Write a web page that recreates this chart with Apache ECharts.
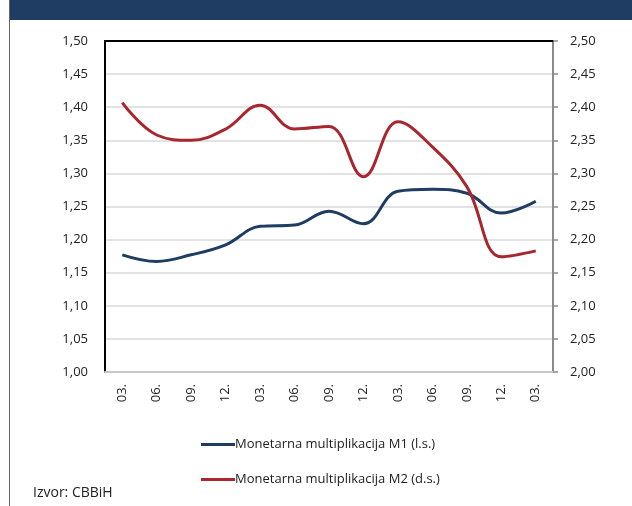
<!DOCTYPE html>
<html>
<head>
<meta charset="utf-8">
<script src="https://cdn.jsdelivr.net/npm/echarts@6/dist/echarts.min.js"></script>
<style>
html, body { margin: 0; padding: 0; background: #fff; }
#chart { width: 632px; height: 506px; }
</style>
</head>
<body>
<div id="chart"></div>
<script>
// kvartali
var categories = ['03.', '06.', '09.', '12.', '03.', '06.', '09.', '12.', '03.', '06.', '09.', '12.', '03.'];
// Monetarna multiplikacija M1 (lijeva skala)
var m1Values = [1.177, 1.167, 1.177, 1.192, 1.220, 1.222, 1.243, 1.224, 1.273, 1.276, 1.270, 1.240, 1.258];
// Monetarna multiplikacija M2 (desna skala)
var m2Values = [2.407, 2.358, 2.350, 2.367, 2.403, 2.367, 2.371, 2.295, 2.378, 2.340, 2.280, 2.174, 2.183];
var seriesNames = ['Monetarna multiplikacija M1 (l.s.)', 'Monetarna multiplikacija M2 (d.s.)'];

var fontFam = '"Open Sans", sans-serif';

function fmt(v){
	return v.toFixed(2).replace('.', ',');
}

var myChart = echarts.init(document.getElementById('chart'));
var option = {
	animation: false,
	textStyle: { fontFamily: fontFam },
	graphic: [
		{ type: 'rect', shape: { x: 10, y: 0, width: 622, height: 20 }, style: { fill: '#1f3d63' } },
		{ type: 'line', shape: { x1: 9.5, y1: 0, x2: 9.5, y2: 506 }, style: { stroke: '#666', lineWidth: 1 } },
		{ type: 'text', left: 33, top: 486, style: { text: 'Izvor: CBBiH', fontSize: 14, fill: '#222', fontFamily: fontFam } }
	],
	legend: {
		orient: 'vertical',
		left: 196,
		top: 433,
		itemGap: 22,
		itemWidth: 34,
		itemHeight: 3,
		icon: 'rect',
		textStyle: { fontSize: 13, color: '#222', padding: [0, 0, 0, -5] },
		data: seriesNames
	},
	grid: { left: 105, right: 79, top: 41, bottom: 134 },
	xAxis: [
		{
			type: 'category',
			data: categories,
			boundaryGap: true,
			axisLine: { lineStyle: { color: '#c8c8c8', width: 2 } },
			axisTick: { show: false },
			axisLabel: { rotate: 90, fontSize: 13, color: '#222', margin: 12 }
		},
		{
			type: 'category',
			data: categories,
			position: 'top',
			axisLine: { lineStyle: { color: '#000', width: 2 } },
			axisTick: { show: false },
			axisLabel: { show: false }
		}
	],
	yAxis: [
		{
			type: 'value',
			min: 1,
			max: 1.5,
			interval: 0.05,
			axisLine: { show: true, lineStyle: { color: '#000', width: 2 } },
			axisTick: { show: false },
			splitLine: { lineStyle: { color: '#d9d9d9', width: 1.5 } },
			axisLabel: { fontSize: 13, color: '#222', margin: 17, formatter: fmt }
		},
		{
			type: 'value',
			min: 2,
			max: 2.5,
			interval: 0.05,
			position: 'right',
			axisLine: { show: true, lineStyle: { color: '#8a8a8a', width: 2 } },
			axisTick: { show: true, length: 5, lineStyle: { color: '#8a8a8a', width: 1.5 } },
			splitLine: { show: false },
			axisLabel: { fontSize: 13, color: '#222', margin: 17, formatter: fmt }
		}
	],
	series: [
		{
			name: seriesNames[0],
			type: 'line',
			yAxisIndex: 0,
			data: m1Values,
			smooth: 0.4,
			symbol: 'none',
			lineStyle: { color: '#1f3d63', width: 3 },
			itemStyle: { color: '#1f3d63' }
		},
		{
			name: seriesNames[1],
			type: 'line',
			yAxisIndex: 1,
			data: m2Values,
			smooth: 0.4,
			symbol: 'none',
			lineStyle: { color: '#a8262e', width: 3 },
			itemStyle: { color: '#a8262e' }
		}
	]
};
myChart.setOption(option);
</script>
</body>
</html>
